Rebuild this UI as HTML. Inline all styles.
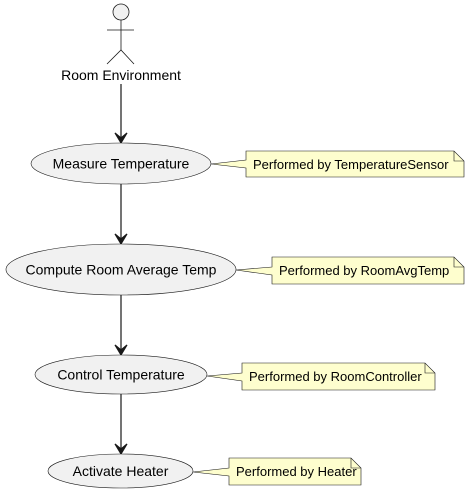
<!DOCTYPE html>
<html><head><meta charset="utf-8"><style>body{margin:0;background:#fff}svg{display:block}</style></head><body>
<svg width="470" height="493" viewBox="0 0 470 493" xmlns="http://www.w3.org/2000/svg" font-family="Liberation Sans, sans-serif">
<g stroke="#181818" stroke-width="0.8" fill="none">
<circle cx="121" cy="12" r="8" fill="#f1f1f1"/>
<line x1="121" y1="20" x2="121" y2="50"/>
<line x1="107" y1="30" x2="134" y2="30"/>
<polyline points="107,64 121,50 134,64"/>
</g>
<text x="121" y="80" font-size="14" text-anchor="middle" fill="#000">Room Environment</text>
<g stroke="#181818" stroke-width="1.2" fill="#181818">
<line x1="121" y1="84" x2="121" y2="141"/><path d="M115,133 L121,143 L127,133 L121,138 Z"/>
<line x1="121" y1="184" x2="121" y2="242"/><path d="M115,234 L121,244 L127,234 L121,239 Z"/>
<line x1="121" y1="295" x2="121" y2="353"/><path d="M115,345 L121,355 L127,345 L121,350 Z"/>
<line x1="121" y1="394" x2="121" y2="452"/><path d="M115,444 L121,454 L127,444 L121,449 Z"/>
</g>
<g stroke="#181818" stroke-width="0.6" fill="#f1f1f1">
<ellipse cx="121" cy="163.5" rx="90" ry="20.5"/>
<ellipse cx="121" cy="269.5" rx="115" ry="25.5"/>
<ellipse cx="121" cy="374.5" rx="86" ry="19.5"/>
<ellipse cx="120.5" cy="471" rx="72.5" ry="17"/>
</g>
<g stroke="#181818" stroke-width="0.6" fill="#fefece">
<path d="M246,151 L454,151 L464,161 L464,177 L246,177 L246,168 L211,164 L246,160 Z"/>
<path d="M454,151 L454,161 L464,161" fill="none"/>
<path d="M272,257 L454,257 L464,267 L464,284 L272,284 L272,275 L236,270 L272,267 Z"/>
<path d="M454,257 L454,267 L464,267" fill="none"/>
<path d="M242,363 L425,363 L435,373 L435,390 L242,390 L242,381 L207,376 L242,373 Z"/>
<path d="M425,363 L425,373 L435,373" fill="none"/>
<path d="M229,458 L351,458 L361,468 L361,485 L229,485 L229,476 L193,472 L229,468 Z"/>
<path d="M351,458 L351,468 L361,468" fill="none"/>
</g>
<g font-size="14" text-anchor="middle" fill="#000">
<text x="121" y="168.5">Measure Temperature</text>
<text x="121" y="274.5">Compute Room Average Temp</text>
<text x="121" y="379.5">Control Temperature</text>
<text x="120.5" y="476">Activate Heater</text>
</g>
<g font-size="13" fill="#000">
<text x="253" y="169">Performed by TemperatureSensor</text>
<text x="279" y="275">Performed by RoomAvgTemp</text>
<text x="249" y="381">Performed by RoomController</text>
<text x="236" y="476">Performed by Heater</text>
</g>
</svg>
</body></html>
